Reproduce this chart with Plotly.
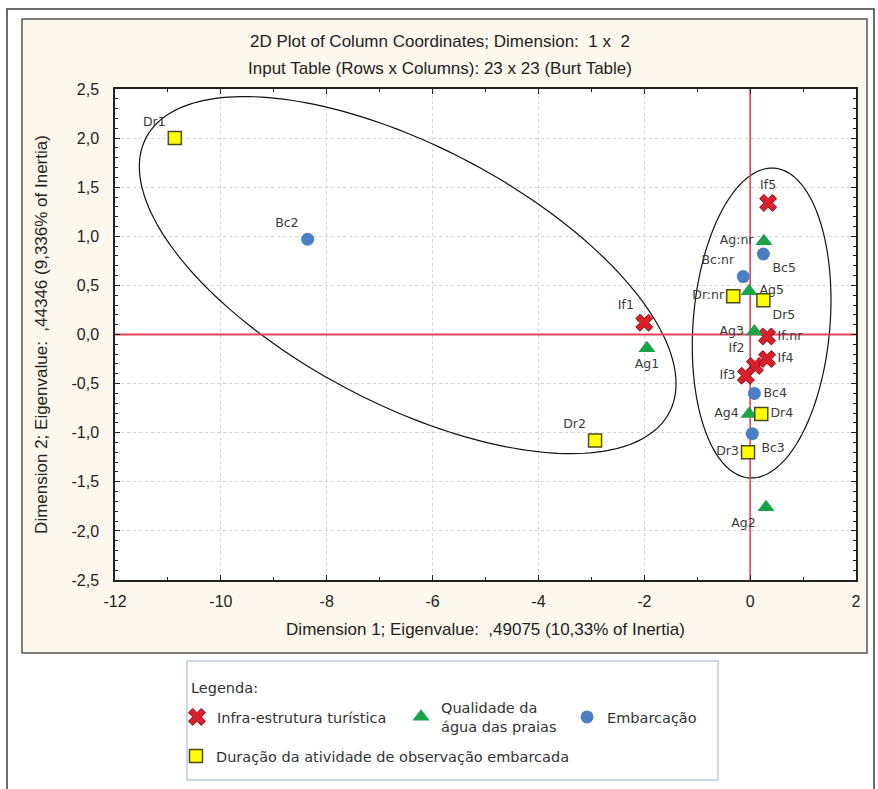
import numpy as np
import plotly.graph_objects as go

# ---------------- data ----------------
if_labels = ["If1", "If2", "If3", "If4", "If5", "If:nr"]
if_x = [-2.00, 0.09, -0.08, 0.32, 0.34, 0.32]
if_y = [0.12, -0.32, -0.42, -0.25, 1.34, -0.02]

ag_labels = ["Ag1", "Ag2", "Ag3", "Ag4", "Ag5", "Ag:nr"]
ag_x = [-1.95, 0.30, 0.08, -0.02, -0.02, 0.26]
ag_y = [-0.14, -1.76, 0.03, -0.81, 0.44, 0.95]

bc_labels = ["Bc2", "Bc3", "Bc4", "Bc5", "Bc:nr"]
bc_x = [-8.36, 0.04, 0.08, 0.25, -0.13]
bc_y = [0.97, -1.01, -0.60, 0.82, 0.59]

dr_labels = ["Dr1", "Dr2", "Dr3", "Dr4", "Dr5", "Dr:nr"]
dr_x = [-10.87, -2.93, -0.04, 0.21, 0.25, -0.32]
dr_y = [2.00, -1.08, -1.20, -0.81, 0.35, 0.39]

x_range = [-12, 2]
y_range = [-2.5, 2.5]
x_tickvals = [-12, -10, -8, -6, -4, -2, 0, 2]
x_ticktext = ["-12", "-10", "-8", "-6", "-4", "-2", "0", "2"]
y_tickvals = [-2.5, -2.0, -1.5, -1.0, -0.5, 0.0, 0.5, 1.0, 1.5, 2.0, 2.5]
y_ticktext = ["-2,5", "-2,0", "-1,5", "-1,0", "-0,5", "0,0", "0,5", "1,0", "1,5", "2,0", "2,5"]

series_names = ["Infra-estrutura turística", "Qualidade da<br>água das praias",
                "Embarcação", "Duração da atividade de observação embarcada"]

# label placement (style)
if_pos = ["top left", "top left", "middle left", "middle right", "top center", "middle right"]
ag_pos = ["bottom center", "bottom left", "middle left", "middle left", "middle right", "middle left"]
bc_pos = ["top left", "bottom right", "middle right", "bottom right", "top left"]
dr_pos = ["top left", "top left", "middle left", "middle right", "bottom right", "middle left"]

# hand-drawn grouping ellipses (center x, center y, half x-extent, half y-extent, cos of phase)
ell_big = (-6.47, 0.605, 5.07, 1.818, 0.608)
ell_right = (0.217, 0.117, 1.31, 1.578, -0.148)

# ---------------- figure ----------------
W, H = 878, 789
ML, MR, MT, MB = 115, 22, 89, 209
PW, PH = W - ML - MR, H - MT - MB


def px2paper_x(px):
    return (px - ML) / PW


def px2paper_y(py):
    return (H - MB - py) / PH


label_font = dict(family="DejaVu Sans, sans-serif", size=12.5, color="#3a3a3a")
red = "#e8425a"

fig = go.Figure()

# origin reference lines (drawn first so that markers sit on top)
fig.add_trace(go.Scatter(x=x_range, y=[0, 0], mode="lines", line=dict(color=red, width=2),
                         showlegend=False, hoverinfo="skip"))
fig.add_trace(go.Scatter(x=[0, 0], y=y_range, mode="lines", line=dict(color=red, width=1.6),
                         showlegend=False, hoverinfo="skip"))

fig.add_trace(go.Scatter(
    x=if_x, y=if_y, text=if_labels, mode="markers+text", textposition=if_pos,
    name=series_names[0], legend="legend",
    marker=dict(symbol="x", size=15, color="#d9202c", line=dict(color="#8a0c12", width=1)),
    textfont=label_font, cliponaxis=False))
fig.add_trace(go.Scatter(
    x=ag_x, y=ag_y, text=ag_labels, mode="markers+text", textposition=ag_pos,
    name=series_names[1], legend="legend2",
    marker=dict(symbol="triangle-up", size=15, color="#18a548", line=dict(width=0)),
    textfont=label_font, cliponaxis=False))
fig.add_trace(go.Scatter(
    x=bc_x, y=bc_y, text=bc_labels, mode="markers+text", textposition=bc_pos,
    name=series_names[2], legend="legend3",
    marker=dict(symbol="circle", size=13, color="#4a7fc4", line=dict(width=0)),
    textfont=label_font, cliponaxis=False))
fig.add_trace(go.Scatter(
    x=dr_x, y=dr_y, text=dr_labels, mode="markers+text", textposition=dr_pos,
    name=series_names[3], legend="legend4",
    marker=dict(symbol="square", size=13, color="#ffff00", line=dict(color="#4a4a1a", width=1.5)),
    textfont=label_font, cliponaxis=False))


def ellipse_path(params, n=200):
    cx, cy, rx, ry, cphi = params
    phi = np.arccos(cphi)
    t = np.linspace(0, 2 * np.pi, n)
    xs = cx + rx * np.cos(t)
    ys = cy - ry * np.cos(t - phi)
    pts = [f"{a:.4f},{b:.4f}" for a, b in zip(xs, ys)]
    return "M " + " L ".join(pts) + " Z"


shapes = [
    # outer frame
    dict(type="rect", xref="paper", yref="paper", layer="below",
         x0=px2paper_x(7), x1=px2paper_x(874), y0=px2paper_y(830), y1=px2paper_y(9),
         line=dict(color="#3c3c3c", width=1.5), fillcolor="white"),
    # cream panel
    dict(type="rect", xref="paper", yref="paper", layer="below",
         x0=px2paper_x(22), x1=px2paper_x(867), y0=px2paper_y(653), y1=px2paper_y(19),
         line=dict(color="#555555", width=1.5), fillcolor="#fdf8ee"),
    # plot area background
    dict(type="rect", xref="paper", yref="paper", layer="below",
         x0=0, x1=1, y0=0, y1=1, line=dict(width=0), fillcolor="white"),
    # legend box
    dict(type="rect", xref="paper", yref="paper", layer="below",
         x0=px2paper_x(187), x1=px2paper_x(718), y0=px2paper_y(780), y1=px2paper_y(661),
         line=dict(color="#9db2cc", width=1), fillcolor="white"),
    # ellipses
    dict(type="path", xref="x", yref="y", path=ellipse_path(ell_big), layer="between",
         line=dict(color="#111111", width=1.2)),
    dict(type="path", xref="x", yref="y", path=ellipse_path(ell_right), layer="between",
         line=dict(color="#111111", width=1.2)),
]

title_font = dict(family="Liberation Sans, Arial, sans-serif", size=17, color="#222222")
tick_font = dict(family="Liberation Sans, Arial, sans-serif", size=16, color="#222222")

annotations = [
    dict(text="2D Plot of Column Coordinates; Dimension:  1 x  2", xref="paper", yref="paper",
         x=px2paper_x(440), y=px2paper_y(42), showarrow=False, font=title_font,
         xanchor="center", yanchor="middle"),
    dict(text="Input Table (Rows x Columns): 23 x 23 (Burt Table)", xref="paper", yref="paper",
         x=px2paper_x(440), y=px2paper_y(68), showarrow=False, font=title_font,
         xanchor="center", yanchor="middle"),
    dict(text="Legenda:", xref="paper", yref="paper", x=px2paper_x(189), y=px2paper_y(688),
         showarrow=False, xanchor="left", yanchor="middle",
         font=dict(family="DejaVu Sans, sans-serif", size=14.5, color="#333333")),
]

legend_font = dict(family="DejaVu Sans, sans-serif", size=14.5, color="#333333")
leg_common = dict(orientation="v", bgcolor="rgba(0,0,0,0)", borderwidth=0, font=legend_font,
                  xanchor="left", yanchor="middle", itemsizing="trace")

fig.update_layout(
    width=W, height=H,
    margin=dict(l=ML, r=MR, t=MT, b=MB),
    paper_bgcolor="white", plot_bgcolor="white",
    shapes=shapes, annotations=annotations,
    legend=dict(x=px2paper_x(177), y=px2paper_y(717), **leg_common),
    legend2=dict(x=px2paper_x(401), y=px2paper_y(717), **leg_common),
    legend3=dict(x=px2paper_x(567), y=px2paper_y(717), **leg_common),
    legend4=dict(x=px2paper_x(176), y=px2paper_y(756), **leg_common),
    showlegend=True,
)

fig.update_xaxes(
    range=x_range, tickvals=x_tickvals, ticktext=x_ticktext,
    showgrid=True, gridcolor="#d4d4d4", griddash="dot", gridwidth=1,
    zeroline=False, showline=True, linecolor="#222222", linewidth=1.5, mirror="ticks",
    ticks="inside", ticklen=5, tickcolor="#222222",
    minor=dict(dtick=1, ticks="inside", ticklen=3, tickcolor="#222222", showgrid=False),
    tickfont=tick_font, ticklabelstandoff=6,
    title=dict(text="Dimension 1; Eigenvalue:  ,49075 (10,33% of Inertia)", font=title_font, standoff=14),
)
fig.update_yaxes(
    range=y_range, tickvals=y_tickvals, ticktext=y_ticktext,
    showgrid=True, gridcolor="#d4d4d4", griddash="dot", gridwidth=1,
    zeroline=False, showline=True, linecolor="#222222", linewidth=1.5, mirror="ticks",
    ticks="inside", ticklen=5, tickcolor="#222222",
    minor=dict(dtick=0.1, ticks="inside", ticklen=3, tickcolor="#222222", showgrid=False),
    tickfont=tick_font, ticklabelstandoff=11,
    title=dict(text="Dimension 2; Eigenvalue:  ,44346 (9,336% of Inertia)", font=title_font, standoff=20),
)

fig.write_html("out.html", config={"displayModeBar": False},
               post_script="document.body.style.margin='0px';")
